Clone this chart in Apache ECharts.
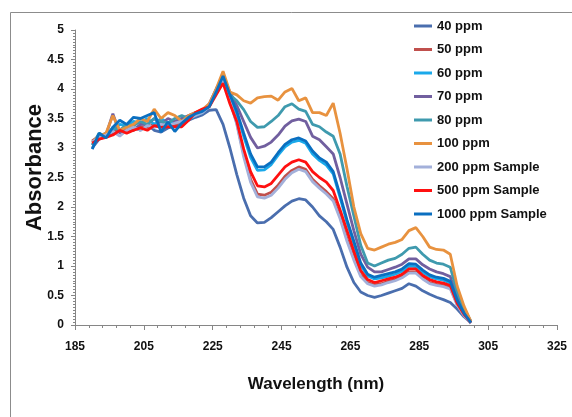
<!DOCTYPE html>
<html>
<head>
<meta charset="utf-8">
<script src="https://cdn.jsdelivr.net/npm/echarts@6/dist/echarts.min.js"></script>
<style>
  html, body { margin: 0; padding: 0; background: #fff; }
  #chart { width: 572px; height: 417px; }
</style>
</head>
<body>
<div id="chart"></div>
<script>
// wavelength (nm) of every sample
const wavelengths = [190, 192, 194, 196, 198, 200, 202, 204, 206, 208, 210, 212, 214, 216, 218, 220, 222, 224, 226,
  228, 230, 232, 234, 236, 238, 240, 242, 244, 246, 248, 250, 252, 254, 256, 258, 260, 262, 264, 266, 268,
  270, 272, 274, 276, 278, 280, 282, 284, 286, 288, 290, 292, 294, 296, 298, 300]

const seriesNames = ['40 ppm', '50 ppm', '60 ppm', '70 ppm', '80 ppm', '100 ppm', '200 ppm Sample', '500 ppm Sample', '1000 ppm Sample']
const colors = ['#4a6eae', '#c0504d', '#1aa9ea', '#715f9f', '#3f9aae', '#e8923f', '#a3b0da', '#ff1010', '#0a6fc0']

const ppm40 = [3.0, 3.15, 3.2, 3.25, 3.3, 3.3, 3.35, 3.3, 3.4, 3.3, 3.27, 3.34, 3.37, 3.4, 3.47, 3.52, 3.56, 3.64, 3.65,
  3.4, 3.0, 2.55, 2.15, 1.85, 1.73, 1.74, 1.82, 1.92, 2.02, 2.1, 2.14, 2.12, 2.0, 1.85, 1.75, 1.62, 1.32, 0.98, 0.72, 0.56,
  0.5, 0.47, 0.5, 0.54, 0.58, 0.62, 0.7, 0.66, 0.58, 0.52, 0.47, 0.43, 0.38, 0.27, 0.14, 0.04]
const ppm50 = [3.12, 3.2, 3.25, 3.3, 3.28, 3.32, 3.3, 3.36, 3.35, 3.4, 3.36, 3.4, 3.4, 3.45, 3.5, 3.56, 3.62, 3.72, 3.96,
  4.2, 3.82, 3.42, 2.9, 2.47, 2.22, 2.2, 2.25, 2.37, 2.52, 2.62, 2.68, 2.64, 2.47, 2.36, 2.26, 2.14, 1.84, 1.46, 1.14, 0.85,
  0.72, 0.68, 0.7, 0.74, 0.77, 0.82, 0.9, 0.9, 0.8, 0.72, 0.69, 0.67, 0.63, 0.35, 0.17, 0.03]
const ppm60 = [3.05, 3.2, 3.25, 3.3, 3.4, 3.38, 3.45, 3.42, 3.5, 3.4, 3.5, 3.42, 3.45, 3.5, 3.48, 3.55, 3.6, 3.72, 3.95,
  4.2, 3.88, 3.58, 3.2, 2.84, 2.62, 2.63, 2.72, 2.88, 3.02, 3.1, 3.13, 3.08, 2.9, 2.79, 2.71, 2.56, 2.16, 1.74, 1.38, 1.01,
  0.83, 0.78, 0.8, 0.83, 0.86, 0.91, 1.0, 0.99, 0.89, 0.82, 0.78, 0.76, 0.71, 0.4, 0.19, 0.04]
const ppm70 = [3.1, 3.2, 3.22, 3.58, 3.25, 3.35, 3.3, 3.4, 3.4, 3.5, 3.4, 3.5, 3.45, 3.5, 3.55, 3.6, 3.62, 3.75, 4.0,
  4.22, 3.95, 3.72, 3.45, 3.18, 3.0, 3.03, 3.1, 3.22, 3.37, 3.46, 3.49, 3.45, 3.2, 3.14, 3.02, 2.9, 2.5, 2.05, 1.6, 1.2,
  0.98, 0.9, 0.9, 0.94, 0.98, 1.03, 1.12, 1.12, 1.02, 0.95, 0.9, 0.87, 0.82, 0.47, 0.24, 0.05]
const ppm80 = [3.05, 3.25, 3.2, 3.35, 3.3, 3.4, 3.38, 3.45, 3.4, 3.5, 3.45, 3.42, 3.5, 3.55, 3.5, 3.6, 3.62, 3.72, 3.98,
  4.22, 3.9, 3.8, 3.65, 3.45, 3.35, 3.36, 3.45, 3.55, 3.7, 3.75, 3.66, 3.62, 3.4, 3.36, 3.27, 3.2, 2.9, 2.35, 1.85, 1.35,
  1.05, 1.0, 1.05, 1.1, 1.13, 1.2, 1.3, 1.32, 1.2, 1.1, 1.05, 1.03, 0.98, 0.56, 0.28, 0.06]
const ppm100 = [3.1, 3.2, 3.25, 3.55, 3.3, 3.35, 3.4, 3.5, 3.45, 3.66, 3.5, 3.6, 3.55, 3.45, 3.55, 3.6, 3.65, 3.75, 4.0,
  4.3, 3.95, 3.9, 3.8, 3.76, 3.85, 3.87, 3.88, 3.81, 3.95, 4.01, 3.8, 3.85, 3.6, 3.6, 3.55, 3.76, 3.25, 2.65, 2.0, 1.55,
  1.3, 1.27, 1.32, 1.37, 1.4, 1.45, 1.6, 1.65, 1.5, 1.32, 1.28, 1.27, 1.2, 0.66, 0.32, 0.06]
const sample200 = [3.1, 3.18, 3.22, 3.28, 3.2, 3.3, 3.35, 3.3, 3.38, 3.35, 3.4, 3.38, 3.42, 3.45, 3.5, 3.55, 3.6, 3.7, 3.95,
  4.18, 3.8, 3.4, 2.85, 2.42, 2.17, 2.15, 2.2, 2.32, 2.47, 2.58, 2.64, 2.6, 2.43, 2.32, 2.22, 2.1, 1.8, 1.42, 1.1, 0.82,
  0.7, 0.66, 0.68, 0.72, 0.75, 0.8, 0.88, 0.88, 0.78, 0.7, 0.67, 0.65, 0.61, 0.34, 0.16, 0.03]
const sample500 = [3.08, 3.15, 3.18, 3.22, 3.3, 3.25, 3.3, 3.34, 3.3, 3.38, 3.35, 3.36, 3.36, 3.36, 3.47, 3.6, 3.66, 3.7, 3.9,
  4.1, 3.75, 3.45, 2.98, 2.6, 2.36, 2.34, 2.4, 2.54, 2.68, 2.76, 2.8, 2.76, 2.6, 2.5, 2.42, 2.28, 1.95, 1.6, 1.25, 0.92,
  0.77, 0.72, 0.75, 0.78, 0.81, 0.86, 0.95, 0.95, 0.84, 0.77, 0.73, 0.71, 0.67, 0.37, 0.18, 0.04]
const sample1000 = [2.98, 3.25, 3.17, 3.35, 3.47, 3.4, 3.52, 3.5, 3.55, 3.6, 3.27, 3.44, 3.28, 3.42, 3.52, 3.58, 3.62, 3.7, 3.95,
  4.22, 3.9, 3.62, 3.25, 2.9, 2.68, 2.68, 2.76, 2.92, 3.06, 3.14, 3.17, 3.12, 2.95, 2.83, 2.76, 2.6, 2.2, 1.78, 1.42, 1.05,
  0.86, 0.81, 0.84, 0.87, 0.9, 0.95, 1.04, 1.03, 0.93, 0.85, 0.81, 0.79, 0.74, 0.42, 0.2, 0.04]

const seriesValues = [ppm40, ppm50, ppm60, ppm70, ppm80, ppm100, sample200, sample500, sample1000]

// axis ticks
const xTicks = [185, 205, 225, 245, 265, 285, 305, 325]
const xMinorTicks = []
for (let v = 185; v <= 325; v += 4) xMinorTicks.push(v)

const FONT = "'Liberation Sans', Arial, sans-serif"
const axisGray = '#868686'

const chart = echarts.init(document.getElementById('chart'))

const option = {
  animation: false,
  backgroundColor: '#fff',
  color: colors,
  textStyle: { fontFamily: FONT },
  // 外框
  graphic: [{
    type: 'rect',
    shape: { x: 10.5, y: 12.5, width: 600, height: 450 },
    style: { fill: 'none', stroke: '#8c8c8c', lineWidth: 1 },
    silent: true
  }],
  legend: {
    orient: 'vertical',
    left: 409,
    top: 13,
    icon: 'rect',
    itemWidth: 18,
    itemHeight: 3,
    itemGap: 7.5,
    textStyle: { fontFamily: FONT, fontSize: 13, fontWeight: 'bold', color: '#111', lineHeight: 16 },
    data: seriesNames
  },
  grid: { left: 75, right: 15, top: 30, bottom: 92 },
  xAxis: [{
    type: 'value',
    min: 185,
    max: 325,
    name: 'Wavelength (nm)',
    nameLocation: 'middle',
    nameGap: 51,
    nameTextStyle: { fontFamily: FONT, fontSize: 17, fontWeight: 'bold', color: '#111' },
    axisLine: { lineStyle: { color: axisGray } },
    axisTick: { customValues: xTicks, length: 5, lineStyle: { color: axisGray } },
    axisLabel: { customValues: xTicks, fontSize: 12, fontWeight: 'bold', color: '#111', margin: 16 },
    splitLine: { show: false }
  }, {
    // 次刻度
    type: 'value',
    min: 185,
    max: 325,
    position: 'bottom',
    axisLine: { show: false },
    axisTick: { customValues: xMinorTicks, length: 3, lineStyle: { color: axisGray } },
    axisLabel: { show: false },
    splitLine: { show: false }
  }],
  yAxis: {
    type: 'value',
    min: 0,
    max: 5,
    interval: 0.5,
    name: 'Absorbance',
    nameLocation: 'middle',
    nameGap: 29,
    nameMoveOverlap: false,
    nameTextStyle: { fontFamily: FONT, fontSize: 22, fontWeight: 'bold', color: '#111', padding: [0, 0, 0, 20] },
    axisLine: { show: true, lineStyle: { color: axisGray } },
    axisTick: { show: true, length: 4, lineStyle: { color: axisGray } },
    minorTick: { show: true, splitNumber: 10, length: 2, lineStyle: { color: axisGray } },
    axisLabel: { fontSize: 12, fontWeight: 'bold', color: '#111', margin: 11 },
    splitLine: { show: false }
  },
  series: seriesNames.map((name, i) => ({
    name: name,
    type: 'line',
    showSymbol: false,
    symbol: 'none',
    lineStyle: { width: 2.8, color: colors[i] },
    itemStyle: { color: colors[i] },
    data: wavelengths.map((w, j) => [w, seriesValues[i][j]])
  }))
}

chart.setOption(option)
</script>
</body>
</html>
